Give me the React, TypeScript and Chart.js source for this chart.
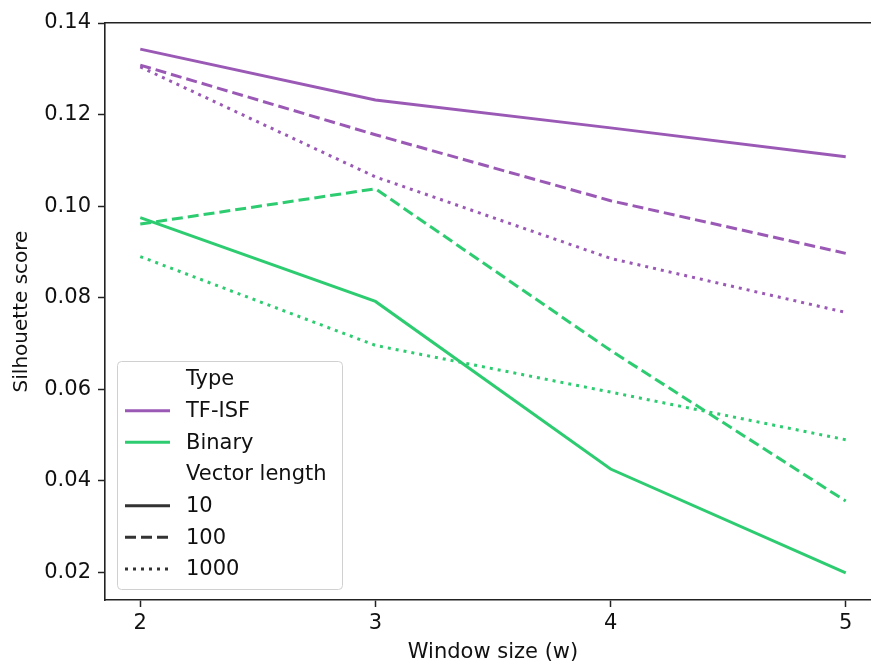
import React, { useEffect, useRef } from "react";
import { Chart, registerables } from "chart.js";

Chart.register(...registerables);

// ---- data ----
const windowSizes = [2, 3, 4, 5];
const tfIsf10 = [0.1343, 0.1232, 0.1171, 0.1108];
const tfIsf100 = [0.1308, 0.1156, 0.1012, 0.0897];
const tfIsf1000 = [0.1304, 0.1064, 0.0886, 0.0768];
const binary10 = [0.0975, 0.0792, 0.0426, 0.0199];
const binary100 = [0.0961, 0.1038, 0.0685, 0.0356];
const binary1000 = [0.089, 0.0696, 0.0594, 0.049];
const xTicks = [2, 3, 4, 5];
const yTicks = [0.02, 0.04, 0.06, 0.08, 0.1, 0.12, 0.14];
const typeLabels = ["TF-ISF", "Binary"];
const lengthLabels = ["10", "100", "1000"];
const legendTitles = ["Type", "Vector length"];

// ---- styles ----
const PURPLE = "#9b59b6";
const GREEN = "#2ecc71";
const DARK = "#333333";
const TEXT = "#111111";
const AXIS = "#222222";
const FONT = "'DejaVu Sans', sans-serif";
const FS = 21;
const LW = 3;
const DASHES: number[][] = [[], [11, 5], [3, 5]];
const typeColors = [PURPLE, GREEN];

const seriesValues = [
  [tfIsf10, tfIsf100, tfIsf1000],
  [binary10, binary100, binary1000],
];

const legendPlugin = {
  id: "customLegend",
  afterDraw(chart: any) {
    const ctx = chart.ctx as CanvasRenderingContext2D;
    ctx.save();
    const bx = 117, by = 361, bw = 225, bh = 228;
    ctx.beginPath();
    (ctx as any).roundRect(bx + 0.5, by + 0.5, bw, bh, 4);
    ctx.fillStyle = "rgba(255,255,255,0.8)";
    ctx.fill();
    ctx.strokeStyle = "#d0d0d0";
    ctx.lineWidth = 1;
    ctx.stroke();

    type Item = { label: string; color?: string; dash?: number[] };
    const items: Item[] = [
      { label: legendTitles[0] },
      ...typeLabels.map((l, i) => ({ label: l, color: typeColors[i], dash: [] as number[] })),
      { label: legendTitles[1] },
      ...lengthLabels.map((l, i) => ({ label: l, color: DARK, dash: DASHES[i] })),
    ];
    const y0 = 379;
    const step = 31.67;
    ctx.font = `${FS}px ${FONT}`;
    ctx.textBaseline = "middle";
    ctx.textAlign = "left";
    items.forEach((it, i) => {
      const y = y0 + i * step;
      if (it.color) {
        ctx.beginPath();
        ctx.setLineDash(it.dash || []);
        ctx.strokeStyle = it.color;
        ctx.lineWidth = LW;
        ctx.lineCap = "butt";
        ctx.moveTo(125, y);
        ctx.lineTo(170, y);
        ctx.stroke();
        ctx.setLineDash([]);
      }
      ctx.fillStyle = TEXT;
      ctx.fillText(it.label, 186, y + 1);
    });
    ctx.restore();
  },
};

export default function App() {
  const ref = useRef<HTMLCanvasElement | null>(null);

  useEffect(() => {
    if (!ref.current) return;
    const datasets: any[] = [];
    seriesValues.forEach((group, ti) => {
      group.forEach((vals, li) => {
        datasets.push({
          label: `${typeLabels[ti]} ${lengthLabels[li]}`,
          data: windowSizes.map((x, k) => ({ x, y: vals[k] })),
          borderColor: typeColors[ti],
          backgroundColor: typeColors[ti],
          borderWidth: LW,
          borderDash: DASHES[li],
          borderCapStyle: "butt",
          pointRadius: 0,
          tension: 0,
          fill: false,
        });
      });
    });

    const chart = new Chart(ref.current, {
      type: "line",
      data: { datasets },
      options: {
        animation: false,
        responsive: false,
        maintainAspectRatio: false,
        layout: { padding: { left: 0, top: 0, right: 9, bottom: 0 } },
        plugins: { legend: { display: false }, tooltip: { enabled: false } },
        scales: {
          x: {
            type: "linear",
            position: "bottom",
            min: 1.85,
            max: 5.15,
            afterBuildTicks: (s: any) => {
              s.ticks = xTicks.map((v) => ({ value: v }));
            },
            afterFit: (s: any) => {
              s.height = 64;
            },
            ticks: {
              color: TEXT,
              font: { family: FONT, size: FS },
              padding: 4,
              maxRotation: 0,
              autoSkip: false,
              callback: (v: any) => String(v),
            },
            grid: {
              drawOnChartArea: false,
              drawTicks: true,
              tickLength: 7,
              tickWidth: 1.5,
              tickColor: AXIS,
            },
            border: { display: true, color: AXIS, width: 1.6 },
            title: {
              display: true,
              text: "Window size (w)",
              color: TEXT,
              font: { family: FONT, size: FS, lineHeight: 1.1 },
              padding: { top: 0, bottom: 0 },
            },
          },
          xTop: {
            type: "linear",
            position: "top",
            display: true,
            min: 1.85,
            max: 5.15,
            afterBuildTicks: (s: any) => {
              s.ticks = [];
            },
            afterFit: (s: any) => {
              s.height = 23;
            },
            ticks: { display: false },
            grid: { drawOnChartArea: false, drawTicks: false },
            border: { display: true, color: AXIS, width: 1.6 },
          },
          y: {
            type: "linear",
            position: "left",
            min: 0.014,
            max: 0.14,
            afterBuildTicks: (s: any) => {
              s.ticks = yTicks.map((v) => ({ value: v }));
            },
            afterFit: (s: any) => {
              s.width = 105;
            },
            ticks: {
              color: TEXT,
              font: { family: FONT, size: FS },
              padding: 7,
              autoSkip: false,
              callback: (v: any) => Number(v).toFixed(2),
            },
            grid: {
              drawOnChartArea: false,
              drawTicks: true,
              tickLength: 7,
              tickWidth: 1.5,
              tickColor: AXIS,
            },
            border: { display: true, color: AXIS, width: 1.6 },
            title: {
              display: true,
              text: "Silhouette score",
              color: TEXT,
              font: { family: FONT, size: 20, lineHeight: 1.2 },
              padding: { top: 10, bottom: 0 },
            },
          },
        },
      } as any,
      plugins: [legendPlugin],
    });
    return () => chart.destroy();
  }, []);

  return (
    <div
      style={{
        position: "fixed",
        left: 0,
        top: 0,
        width: 871,
        height: 664,
        overflow: "hidden",
        background: "#ffffff",
      }}
    >
      <canvas ref={ref} width={890} height={664} style={{ display: "block", width: 890, height: 664 }} />
    </div>
  );
}
